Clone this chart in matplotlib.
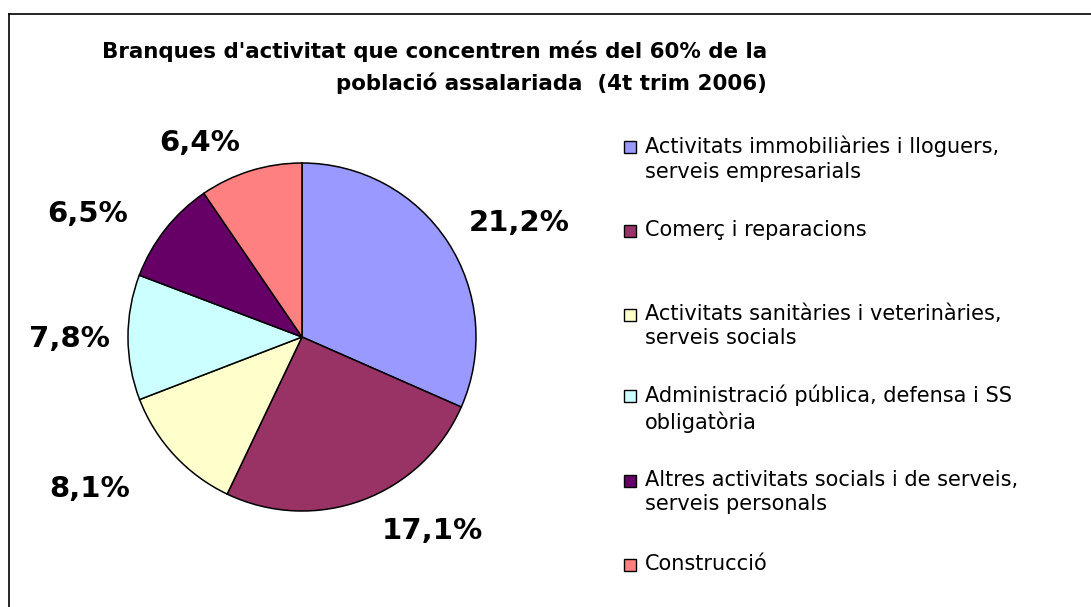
import matplotlib.pyplot as plt
from matplotlib.patches import Rectangle
from matplotlib.lines import Line2D

# data
labels = [
    "Activitats immobiliàries i lloguers,\nserveis empresarials",
    "Comerç i reparacions",
    "Activitats sanitàries i veterinàries,\nserveis socials",
    "Administració pública, defensa i SS\nobligatòria",
    "Altres activitats socials i de serveis,\nserveis personals",
    "Construcció",
]
values = [21.2, 17.1, 8.1, 7.8, 6.5, 6.4]
value_text = ["21,2%", "17,1%", "8,1%", "7,8%", "6,5%", "6,4%"]
colors = ["#9999FF", "#993366", "#FFFFCC", "#CCFFFF", "#660066", "#FF8080"]

W, H = 1091, 607
fig = plt.figure(figsize=(W / 100, H / 100), dpi=100)

# pie axes: centre (302, 337) px, radius 174 px
cx, cy, r = 302, 337, 174
ax = fig.add_axes([(cx - r) / W, (H - cy - r) / H, 2 * r / W, 2 * r / H])
ax.pie(values, colors=colors, startangle=90, counterclock=False, radius=1,
       wedgeprops=dict(edgecolor="black", linewidth=1.1))
ax.set_xlim(-1, 1)
ax.set_ylim(-1, 1)
ax.set_aspect("equal")
ax.axis("off")

# value labels (pixel positions of label centres)
label_px = [(519, 223), (432, 531), (90, 489), (69, 339), (88, 214), (200, 143)]
for txt, (px, py) in zip(value_text, label_px):
    ax.text((px - cx) / r, (cy - py) / r, txt, ha="center", va="center",
            fontsize=21, fontweight="bold", clip_on=False)

# title
fig.text(767 / W, 1 - 67 / H,
         "Branques d'activitat que concentren més del 60% de la\n"
         "població assalariada  (4t trim 2006)",
         ha="right", va="center", multialignment="right",
         fontsize=15.4, fontweight="bold", linespacing=1.6)

# legend
legend_y = [147, 231, 315, 396, 481, 565]
for lab, col, ly in zip(labels, colors, legend_y):
    fig.patches.append(Rectangle((624 / W, 1 - (ly + 6) / H), 12 / W, 12 / H,
                                 transform=fig.transFigure, facecolor=col,
                                 edgecolor="black", linewidth=1.0))
    fig.text(645 / W, 1 - (ly - 11) / H, lab, ha="left", va="top",
             fontsize=15, linespacing=1.27)

# frame (top and left edges)
fig.add_artist(Line2D([9 / W, 1], [1 - 14 / H, 1 - 14 / H],
                      transform=fig.transFigure, color="black", linewidth=1.2))
fig.add_artist(Line2D([9 / W, 9 / W], [0, 1 - 14 / H],
                      transform=fig.transFigure, color="black", linewidth=1.2))

fig.savefig("out.png", dpi=100)
